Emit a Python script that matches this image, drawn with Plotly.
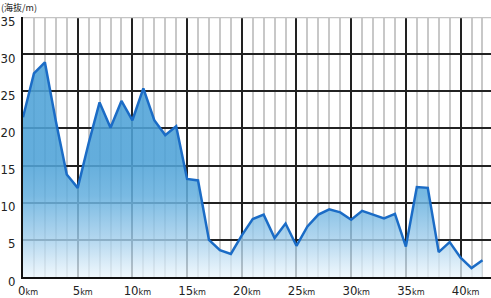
import plotly.graph_objects as go

# ---- data ----
km = list(range(43))
elevation = [21.5, 27.4, 28.9, 21.0, 13.8, 12.0, 18.0, 23.5, 20.1, 23.7,
             21.1, 25.4, 21.1, 19.1, 20.3, 13.2, 13.0, 5.0, 3.6, 3.1,
             5.6, 7.8, 8.4, 5.25, 7.2, 4.2, 6.8, 8.4, 9.1, 8.7,
             7.7, 8.9, 8.4, 7.9, 8.5, 4.1, 12.1, 12.0, 3.35, 4.7,
             2.6, 1.2, 2.25]
x_tick_vals = [0, 5, 10, 15, 20, 25, 30, 35, 40]
x_tick_text = [f"{v}<span style='font-size:9px'>km</span>" for v in x_tick_vals]
y_tick_vals = [0, 5, 10, 15, 20, 25, 30, 35]
y_tick_text = [str(v) for v in y_tick_vals]
y_title = "(海抜/m)"

tick_font = dict(family="Liberation Sans Narrow, DejaVu Sans Condensed, Arial Narrow, sans-serif",
                 size=13, color="#222222")

fig = go.Figure()
fig.add_trace(go.Scatter(
    x=km, y=elevation, mode="lines",
    line=dict(color="#1b6cc6", width=2.5),
    fill="tozeroy",
    fillgradient=dict(
        type="vertical",
        start=0, stop=16,
        colorscale=[[0, "rgba(240,248,253,0.75)"],
                    [0.35, "rgba(160,205,235,0.82)"],
                    [0.7, "rgba(100,175,222,0.86)"],
                    [1, "rgba(78,162,215,0.88)"]],
    ),
    hoverinfo="skip", showlegend=False,
))

fig.add_shape(type="line", xref="paper", yref="y", x0=0, x1=1, y0=35, y1=35,
              line=dict(color="#c4c4c4", width=2.5), layer="above")

fig.add_annotation(text=y_title, xref="paper", yref="paper", x=0, y=1,
                   xanchor="left", yanchor="middle", xshift=-23, yshift=10,
                   showarrow=False, borderpad=0,
                   font=dict(family="Noto Sans CJK JP", size=9, color="#222222"))

fig.update_layout(
    width=491, height=298,
    margin=dict(l=23, r=0, t=17, b=18),
    paper_bgcolor="white", plot_bgcolor="white",
    xaxis=dict(
        range=[0, 42.78], tickmode="array", tickvals=x_tick_vals, ticktext=x_tick_text,
        showgrid=True, gridcolor="#222222", gridwidth=1.5,
        minor=dict(tickmode="linear", tick0=0, dtick=1, showgrid=True,
                   gridcolor="#c8c8c8", gridwidth=2),
        showline=True, linecolor="#111111", linewidth=2,
        zeroline=False, ticks="", tickfont=tick_font, ticklabelshift=5,
        ticklabelstandoff=0,
    ),
    yaxis=dict(
        range=[0, 35], tickmode="array", tickvals=y_tick_vals, ticktext=y_tick_text,
        showgrid=True, gridcolor="#222222", gridwidth=1.5,
        showline=True, linecolor="#111111", linewidth=2,
        zeroline=False, ticks="", tickfont=tick_font, ticklabelstandoff=3,
        ticklabelshift=4,
    ),
)

fig.write_html("out.html")
